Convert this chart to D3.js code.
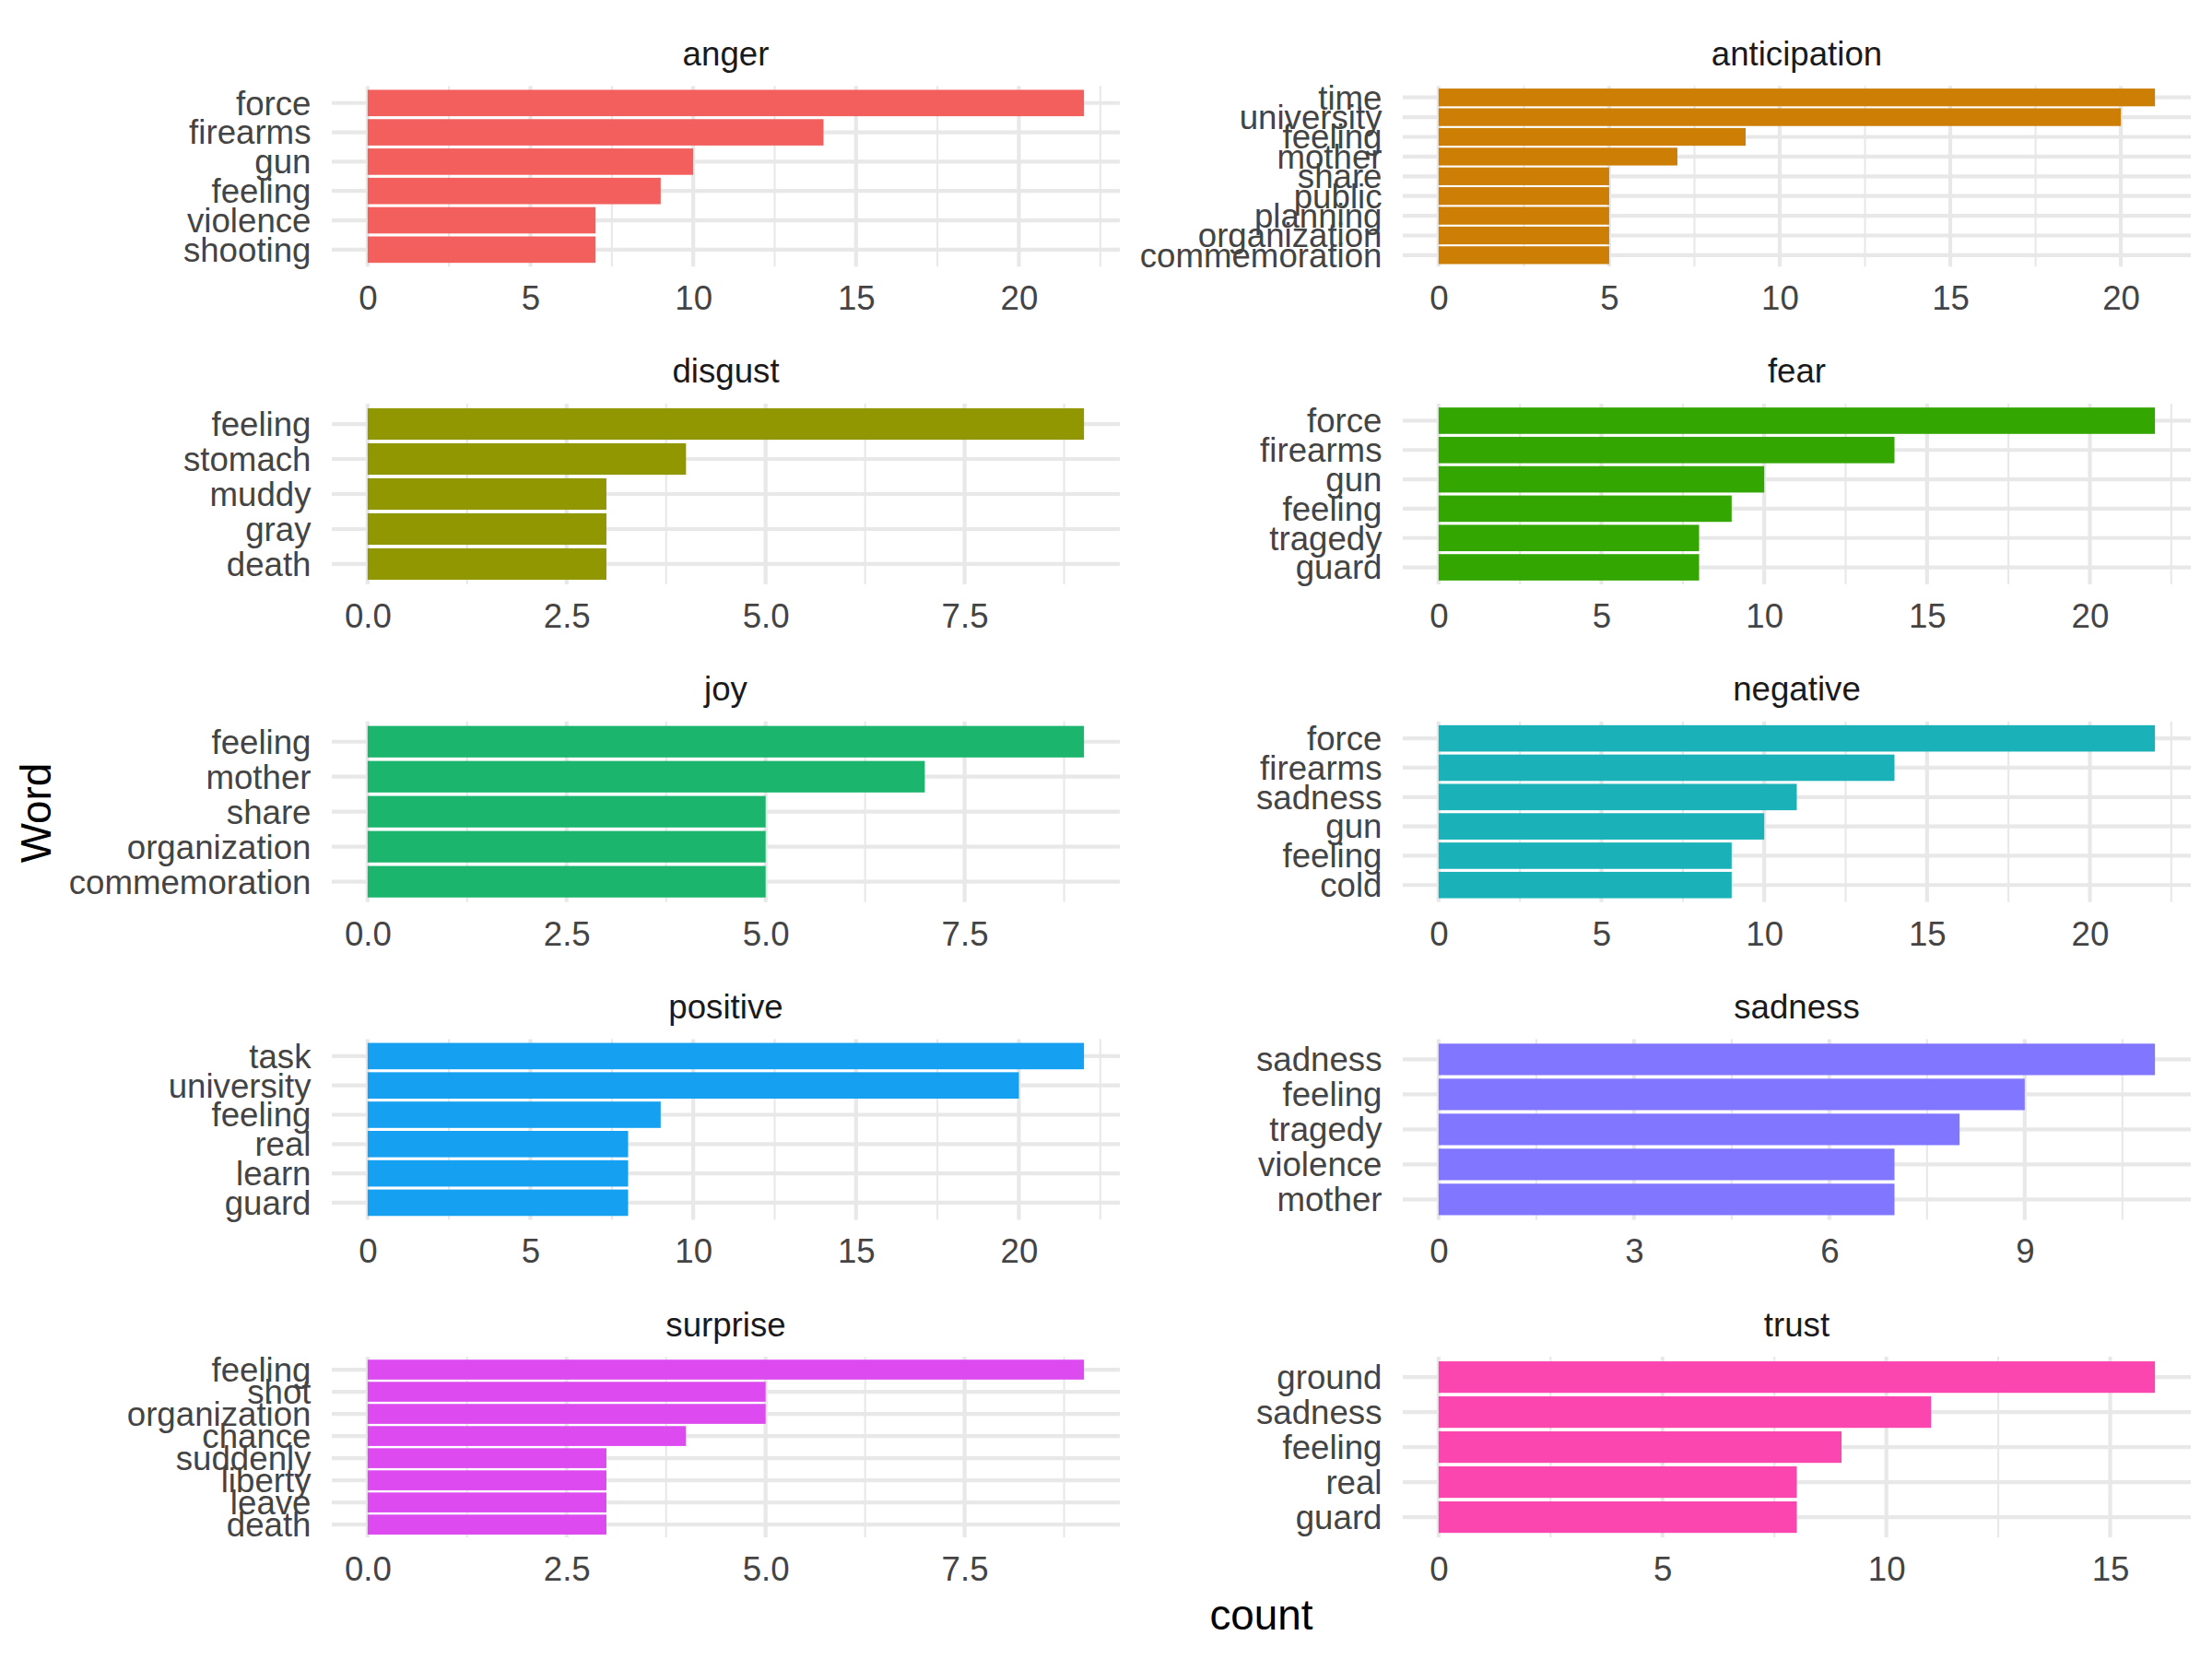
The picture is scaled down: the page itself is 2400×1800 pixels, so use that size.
<!DOCTYPE html>
<html>
<head>
<meta charset="utf-8">
<script src="https://cdn.jsdelivr.net/npm/d3@7"></script>
<style>
  html, body { margin: 0; padding: 0; background: #ffffff; }
  svg { display: block; font-family: "Liberation Sans", Arial, Helvetica, sans-serif; }
</style>
</head>
<body>
<svg id="chart" width="2400" height="1800"></svg>
<script>
// ---------------- data ----------------
const sentiments = ["anger", "anticipation", "disgust", "fear", "joy",
                    "negative", "positive", "sadness", "surprise", "trust"];

const angerWords = ["force", "firearms", "gun", "feeling", "violence", "shooting"];
const angerCounts = [22, 14, 10, 9, 7, 7];

const anticipationWords = ["time", "university", "feeling", "mother", "share", "public", "planning", "organization", "commemoration"];
const anticipationCounts = [21, 20, 9, 7, 5, 5, 5, 5, 5];

const disgustWords = ["feeling", "stomach", "muddy", "gray", "death"];
const disgustCounts = [9, 4, 3, 3, 3];

const fearWords = ["force", "firearms", "gun", "feeling", "tragedy", "guard"];
const fearCounts = [22, 14, 10, 9, 8, 8];

const joyWords = ["feeling", "mother", "share", "organization", "commemoration"];
const joyCounts = [9, 7, 5, 5, 5];

const negativeWords = ["force", "firearms", "sadness", "gun", "feeling", "cold"];
const negativeCounts = [22, 14, 11, 10, 9, 9];

const positiveWords = ["task", "university", "feeling", "real", "learn", "guard"];
const positiveCounts = [22, 20, 9, 8, 8, 8];

const sadnessWords = ["sadness", "feeling", "tragedy", "violence", "mother"];
const sadnessCounts = [11, 9, 8, 7, 7];

const surpriseWords = ["feeling", "shot", "organization", "chance", "suddenly", "liberty", "leave", "death"];
const surpriseCounts = [9, 5, 5, 4, 3, 3, 3, 3];

const trustWords = ["ground", "sadness", "feeling", "real", "guard"];
const trustCounts = [16, 11, 9, 8, 8];

// x-axis tick labels per panel
const angerTicks = [0, 5, 10, 15, 20];
const anticipationTicks = [0, 5, 10, 15, 20];
const disgustTicks = [0, 2.5, 5, 7.5];
const fearTicks = [0, 5, 10, 15, 20];
const joyTicks = [0, 2.5, 5, 7.5];
const negativeTicks = [0, 5, 10, 15, 20];
const positiveTicks = [0, 5, 10, 15, 20];
const sadnessTicks = [0, 3, 6, 9];
const surpriseTicks = [0, 2.5, 5, 7.5];
const trustTicks = [0, 5, 10, 15];

const xTitle = "count";
const yTitle = "Word";

// palette
const palette = ["#F25F5C", "#CD7E05", "#919700", "#33A602", "#1BB56D",
                 "#1AB2B8", "#16A0F1", "#8176FF", "#DC4AF0", "#FB46B0"];

const panels = [
  {name: sentiments[0], words: angerWords, counts: angerCounts, ticks: angerTicks},
  {name: sentiments[1], words: anticipationWords, counts: anticipationCounts, ticks: anticipationTicks},
  {name: sentiments[2], words: disgustWords, counts: disgustCounts, ticks: disgustTicks},
  {name: sentiments[3], words: fearWords, counts: fearCounts, ticks: fearTicks},
  {name: sentiments[4], words: joyWords, counts: joyCounts, ticks: joyTicks},
  {name: sentiments[5], words: negativeWords, counts: negativeCounts, ticks: negativeTicks},
  {name: sentiments[6], words: positiveWords, counts: positiveCounts, ticks: positiveTicks},
  {name: sentiments[7], words: sadnessWords, counts: sadnessCounts, ticks: sadnessTicks},
  {name: sentiments[8], words: surpriseWords, counts: surpriseCounts, ticks: surpriseTicks},
  {name: sentiments[9], words: trustWords, counts: trustCounts, ticks: trustTicks}
];

// ---------------- layout ----------------
const panelW = 855, panelH = 196;
const colX = [360, 1522];
const rowTop0 = 93.3, rowStep = 344.7;
const gridColor = "#E8E8E8";
const majorW = 4.2, minorW = 2.1;
const fs = 36.67, titleFs = 45.83;

const svg = d3.select("#chart");

panels.forEach((p, i) => {
  const col = i % 2, row = Math.floor(i / 2);
  const x0 = colX[col], y0 = rowTop0 + row * rowStep;
  const maxV = d3.max(p.counts);
  const x = d3.scaleLinear().domain([-0.05 * maxV, 1.05 * maxV]).range([x0, x0 + panelW]);
  const y = d3.scaleBand().domain(p.words).range([y0, y0 + panelH])
              .paddingInner(0.1).paddingOuter(0.13).align(0.5);
  const g = svg.append("g");

  // minor gridlines
  const t = p.ticks, stepT = t[1] - t[0];
  const minors = [t[0] - stepT / 2].concat(t.map(v => v + stepT / 2))
                  .filter(v => v >= x.domain()[0] && v <= x.domain()[1]);
  g.selectAll(".minor").data(minors).enter().append("line")
    .attr("x1", d => x(d)).attr("x2", d => x(d))
    .attr("y1", y0).attr("y2", y0 + panelH)
    .attr("stroke", gridColor).attr("stroke-width", minorW);
  // major vertical
  g.selectAll(".majorx").data(t).enter().append("line")
    .attr("x1", d => x(d)).attr("x2", d => x(d))
    .attr("y1", y0).attr("y2", y0 + panelH)
    .attr("stroke", gridColor).attr("stroke-width", majorW);
  // major horizontal
  g.selectAll(".majory").data(p.words).enter().append("line")
    .attr("x1", x0).attr("x2", x0 + panelW)
    .attr("y1", d => y(d) + y.bandwidth() / 2).attr("y2", d => y(d) + y.bandwidth() / 2)
    .attr("stroke", gridColor).attr("stroke-width", majorW);

  // bars
  g.selectAll(".bar").data(p.words.map((w, k) => ({w, v: p.counts[k]}))).enter().append("rect")
    .attr("x", x(0)).attr("y", d => y(d.w))
    .attr("width", d => x(d.v) - x(0)).attr("height", y.bandwidth())
    .attr("fill", palette[i]);

  // x axis
  const fmt = t.some(v => v % 1 !== 0) ? d3.format(".1f") : d3.format("d");
  const ax = g.append("g").attr("transform", `translate(0,${y0 + panelH})`)
    .call(d3.axisBottom(x).tickValues(t).tickFormat(fmt).tickSize(0).tickPadding(21));
  ax.select(".domain").remove();
  ax.selectAll("text").attr("font-size", fs).attr("fill", "#444444")
    .attr("font-family", "Liberation Sans, Arial, sans-serif");

  // y axis
  const ay = g.append("g").attr("transform", `translate(${x0},0)`)
    .call(d3.axisLeft(y).tickSize(0).tickPadding(22.5));
  ay.select(".domain").remove();
  ay.selectAll("text").attr("font-size", fs).attr("fill", "#444444").attr("dy", "0.35em")
    .attr("font-family", "Liberation Sans, Arial, sans-serif");

  // strip title
  g.append("text").attr("x", x0 + panelW / 2).attr("y", y0 - 22.6)
    .attr("text-anchor", "middle").attr("font-size", fs).attr("fill", "#1A1A1A")
    .text(p.name);
});

// axis titles
svg.append("text").attr("x", (colX[0] + colX[1] + panelW) / 2).attr("y", 1767.7)
  .attr("text-anchor", "middle").attr("font-size", titleFs).attr("fill", "#000")
  .text(xTitle);
svg.append("text").attr("transform", "translate(55,882) rotate(-90)")
  .attr("text-anchor", "middle").attr("font-size", titleFs).attr("fill", "#000")
  .text(yTitle);
</script>
</body>
</html>
